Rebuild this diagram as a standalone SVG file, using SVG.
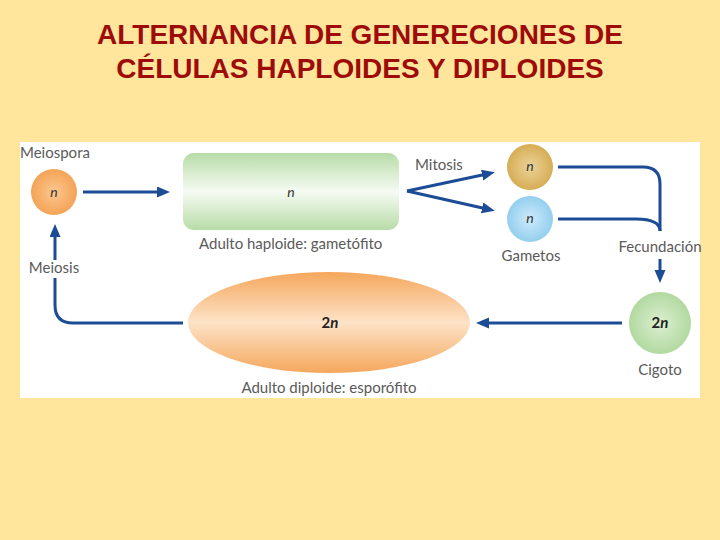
<svg xmlns="http://www.w3.org/2000/svg" width="720" height="540" viewBox="0 0 720 540">
<defs>
<style>
.title{font-family:"Liberation Sans",Arial,sans-serif;font-weight:bold;font-size:28px;fill:#9e0b0b;text-anchor:middle}
.lbl{font-family:Lato,"Open Sans",sans-serif;font-size:15px;fill:#5a5a5a}
.n{font-family:Lato,"Open Sans",sans-serif;font-style:italic;font-size:14px;fill:#333;text-anchor:middle}
.nn{font-family:Lato,"Open Sans",sans-serif;font-weight:bold;font-size:15px;fill:#222;text-anchor:middle}
.con{fill:none;stroke:#1c4c95;stroke-width:3}
</style>
<marker id="ah" markerUnits="userSpaceOnUse" markerWidth="14" markerHeight="12" refX="5" refY="5.5" orient="auto">
<path d="M0,0 L13,5.5 L0,11 z" fill="#1c4c95"/>
</marker>
<radialGradient id="gOr" cx="0.5" cy="0.5" r="0.5">
<stop offset="0" stop-color="#fbc890"/><stop offset="1" stop-color="#f4a356"/>
</radialGradient>
<radialGradient id="gGold" cx="0.5" cy="0.5" r="0.5">
<stop offset="0" stop-color="#ecd39a"/><stop offset="1" stop-color="#d6ad55"/>
</radialGradient>
<radialGradient id="gBlue" cx="0.5" cy="0.5" r="0.5">
<stop offset="0" stop-color="#cdeafa"/><stop offset="1" stop-color="#94cfef"/>
</radialGradient>
<radialGradient id="gGreen" cx="0.5" cy="0.5" r="0.5">
<stop offset="0" stop-color="#dcefd2"/><stop offset="1" stop-color="#b2d9a0"/>
</radialGradient>
<linearGradient id="gRect" x1="0" y1="0" x2="0" y2="1">
<stop offset="0" stop-color="#b7dca7"/><stop offset="0.5" stop-color="#f6fbf3"/><stop offset="1" stop-color="#b7dca7"/>
</linearGradient>
<linearGradient id="gEll" x1="0" y1="0" x2="0" y2="1">
<stop offset="0" stop-color="#f5a75c"/><stop offset="0.5" stop-color="#fde3c8"/><stop offset="1" stop-color="#f5a75c"/>
</linearGradient>
</defs>
<rect x="0" y="0" width="720" height="540" fill="#ffe69c"/>
<text class="title" x="360" y="44">ALTERNANCIA DE GENERECIONES DE</text>
<text class="title" x="360" y="78">CÉLULAS HAPLOIDES Y DIPLOIDES</text>
<rect x="20" y="142" width="680" height="256" fill="#ffffff"/>

<g id="connectors">
<line class="con" x1="83" y1="192" x2="162" y2="192" marker-end="url(#ah)"/>
<line class="con" x1="407" y1="191" x2="487" y2="174" marker-end="url(#ah)"/>
<line class="con" x1="407" y1="191" x2="487" y2="209" marker-end="url(#ah)"/>
<path class="con" d="M558,167 H643 Q660,167 660,184 V231"/>
<path class="con" d="M558,219 H636 Q660,219 660,231"/>
<line class="con" x1="660" y1="259" x2="660" y2="275" marker-end="url(#ah)"/>
<line class="con" x1="622" y1="323" x2="484" y2="323" marker-end="url(#ah)"/>
<path class="con" d="M183,323 H73 Q55,323 55,305 V278"/>
<line class="con" x1="55" y1="260" x2="55" y2="232" marker-end="url(#ah)"/>
</g>

<g id="meiospora">
<circle cx="54" cy="192" r="23" fill="url(#gOr)"/>
<text class="n" x="54" y="197">n</text>
<text class="lbl" x="20" y="158">Meiospora</text>
</g>
<g id="gametofito">
<rect x="183" y="153" width="216" height="77" rx="11" fill="url(#gRect)"/>
<text class="n" x="291" y="197">n</text>
<text class="lbl" x="199" y="249">Adulto haploide: gametófito</text>
</g>
<g id="mitosis"><text class="lbl" x="415" y="170">Mitosis</text></g>
<g id="gameto1">
<circle cx="530" cy="167" r="23" fill="url(#gGold)"/>
<text class="n" x="530" y="171">n</text>
</g>
<g id="gameto2">
<circle cx="530" cy="219" r="23" fill="url(#gBlue)"/>
<text class="n" x="530" y="223">n</text>
<text class="lbl" x="531" y="261" text-anchor="middle">Gametos</text>
</g>
<g id="fecundacion"><text class="lbl" x="660" y="252" text-anchor="middle">Fecundación</text></g>
<g id="cigoto">
<circle cx="660" cy="323" r="31" fill="url(#gGreen)"/>
<text class="nn" x="660" y="328">2<tspan font-style="italic">n</tspan></text>
<text class="lbl" x="660" y="375" text-anchor="middle">Cigoto</text>
</g>
<g id="esporofito">
<ellipse cx="329" cy="322.5" rx="141" ry="50.5" fill="url(#gEll)"/>
<text class="nn" x="330" y="328">2<tspan font-style="italic">n</tspan></text>
<text class="lbl" x="329" y="393" text-anchor="middle">Adulto diploide: esporófito</text>
</g>
<g id="meiosis"><text class="lbl" x="54" y="273" text-anchor="middle">Meiosis</text></g>
</svg>
